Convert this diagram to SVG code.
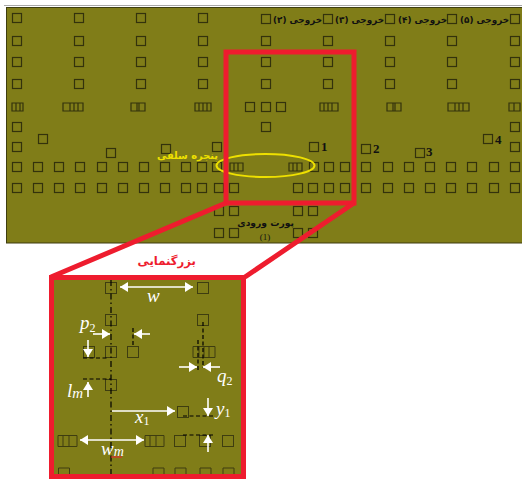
<svg xmlns="http://www.w3.org/2000/svg" xmlns:xlink="http://www.w3.org/1999/xlink" width="522" height="479" viewBox="0 0 522 479">
<style>
.s{fill:none;stroke:#33320c;stroke-width:1.2}
.b{fill:none;stroke:#3e3d10;stroke-width:1}
.r{fill:none;stroke:#ee1c2e;stroke-width:5}
.w{stroke:#fff;stroke-width:1.6;fill:none}
.d{stroke:#000;stroke-width:1.2;stroke-dasharray:4 2.5;fill:none}
.dd{stroke:#000;stroke-width:1.2;stroke-dasharray:6 3 1.5 3;fill:none}
.a{font-family:"DejaVu Sans",sans-serif;font-weight:bold;direction:rtl}
.n{font-family:"Liberation Serif",serif;font-weight:bold;font-size:13px;fill:#111}
.m{font-family:"Liberation Serif",serif;font-style:italic;fill:#fff;font-size:19px}
.u{font-size:12px;font-style:normal}
</style>
<defs>
<rect id="q" class="s" x="-4.500" y="-4.500" width="9" height="9"/>
<rect id="Q" class="b" x="-5.500" y="-5.500" width="11" height="11"/>
<marker id="ah" markerUnits="userSpaceOnUse" markerWidth="9" markerHeight="10" refX="8" refY="5" orient="auto-start-reverse"><path d="M0 0L8 5L0 10z" fill="#fff"/></marker>
</defs>
<rect x="0" y="0" width="522" height="479" fill="#fff"/>
<line x1="4" y1="5.500" x2="522" y2="5.500" stroke="#a8a8a8" stroke-width="1"/>
<rect x="6.500" y="7.500" width="516" height="235.500" fill="#807d18" stroke="#3e3d10" stroke-width="1"/>

<g id="slots">
<use xlink:href="#q" x="17" y="18"/><use xlink:href="#q" x="79" y="18"/><use xlink:href="#q" x="141" y="18"/><use xlink:href="#q" x="203" y="18"/><use xlink:href="#q" x="266" y="19"/><use xlink:href="#q" x="328" y="19"/><use xlink:href="#q" x="390" y="19"/><use xlink:href="#q" x="452" y="19"/><use xlink:href="#q" x="515" y="19"/>
<use xlink:href="#q" x="17" y="41"/><use xlink:href="#q" x="79" y="41"/><use xlink:href="#q" x="141" y="41"/><use xlink:href="#q" x="203" y="41"/><use xlink:href="#q" x="266" y="41"/><use xlink:href="#q" x="328" y="41"/><use xlink:href="#q" x="390" y="41"/><use xlink:href="#q" x="452" y="41"/><use xlink:href="#q" x="515" y="41"/>
<use xlink:href="#q" x="17" y="62"/><use xlink:href="#q" x="79" y="62"/><use xlink:href="#q" x="141" y="62"/><use xlink:href="#q" x="203" y="62"/><use xlink:href="#q" x="266" y="62"/><use xlink:href="#q" x="328" y="62"/><use xlink:href="#q" x="390" y="62"/><use xlink:href="#q" x="452" y="62"/><use xlink:href="#q" x="515" y="62"/>
<use xlink:href="#q" x="17" y="84"/><use xlink:href="#q" x="79" y="84"/><use xlink:href="#q" x="141" y="84"/><use xlink:href="#q" x="203" y="84"/><use xlink:href="#q" x="266" y="84"/><use xlink:href="#q" x="328" y="84"/><use xlink:href="#q" x="390" y="84"/><use xlink:href="#q" x="452" y="84"/><use xlink:href="#q" x="515" y="84"/>
<path class="s" d="M12 103h11v8h-11zM16 103v8M20 103v8M63 103h20v8h-20zM70 103v8M74 103v8M78 103v8M131 103h14v8h-14zM137 103v8M139 103v8M195 103h16v8h-16zM199 103v8M203 103v8M207 103v8M320 103h18v8h-18zM324 103v8M328 103v8M332 103v8M387 103h14v8h-14zM393 103v8M395 103v8M448 103h21v8h-21zM455 103v8M459 103v8M463 103v8M509 103h11v8h-11zM514 103v8"/>
<use xlink:href="#q" x="250" y="107"/><use xlink:href="#q" x="266" y="107"/><use xlink:href="#q" x="281" y="107"/>
<use xlink:href="#q" x="17" y="127"/><use xlink:href="#q" x="266" y="127"/><use xlink:href="#q" x="515" y="127"/>
<use xlink:href="#q" x="17" y="147"/><use xlink:href="#q" x="43" y="139"/><use xlink:href="#q" x="111" y="153"/><use xlink:href="#q" x="166" y="149"/><use xlink:href="#q" x="217" y="147"/><use xlink:href="#q" x="314" y="147"/><use xlink:href="#q" x="366" y="149"/><use xlink:href="#q" x="420" y="153"/><use xlink:href="#q" x="488" y="139"/><use xlink:href="#q" x="515" y="147"/>
<use xlink:href="#q" x="17" y="167"/><use xlink:href="#q" x="38" y="167"/><use xlink:href="#q" x="59" y="167"/><use xlink:href="#q" x="80" y="167"/><use xlink:href="#q" x="102" y="167"/><use xlink:href="#q" x="123" y="167"/><use xlink:href="#q" x="144" y="167"/><use xlink:href="#q" x="165" y="167"/><use xlink:href="#q" x="186" y="167"/><use xlink:href="#q" x="202" y="167"/><use xlink:href="#q" x="217" y="167"/><use xlink:href="#q" x="314" y="167"/><use xlink:href="#q" x="329" y="167"/><use xlink:href="#q" x="345" y="167"/><use xlink:href="#q" x="366" y="167"/><use xlink:href="#q" x="388" y="167"/><use xlink:href="#q" x="409" y="167"/><use xlink:href="#q" x="430" y="167"/><use xlink:href="#q" x="451" y="167"/><use xlink:href="#q" x="472" y="167"/><use xlink:href="#q" x="494" y="167"/><use xlink:href="#q" x="515" y="167"/>
<path class="s" d="M230 163h13v8h-13zM234 163v8M238 163v8M289 163h13v8h-13zM293 163v8M297 163v8"/>
<use xlink:href="#q" x="17" y="188"/><use xlink:href="#q" x="38" y="188"/><use xlink:href="#q" x="59" y="188"/><use xlink:href="#q" x="80" y="188"/><use xlink:href="#q" x="102" y="188"/><use xlink:href="#q" x="123" y="188"/><use xlink:href="#q" x="144" y="188"/><use xlink:href="#q" x="165" y="188"/><use xlink:href="#q" x="186" y="188"/><use xlink:href="#q" x="202" y="188"/><use xlink:href="#q" x="219" y="188"/><use xlink:href="#q" x="234" y="188"/><use xlink:href="#q" x="298" y="188"/><use xlink:href="#q" x="313" y="188"/><use xlink:href="#q" x="329" y="188"/><use xlink:href="#q" x="345" y="188"/><use xlink:href="#q" x="366" y="188"/><use xlink:href="#q" x="388" y="188"/><use xlink:href="#q" x="409" y="188"/><use xlink:href="#q" x="430" y="188"/><use xlink:href="#q" x="451" y="188"/><use xlink:href="#q" x="472" y="188"/><use xlink:href="#q" x="494" y="188"/><use xlink:href="#q" x="515" y="188"/>
<use xlink:href="#q" x="219" y="211"/><use xlink:href="#q" x="234" y="211"/><use xlink:href="#q" x="298" y="211"/><use xlink:href="#q" x="313" y="211"/>
<use xlink:href="#q" x="219" y="233"/><use xlink:href="#q" x="234" y="233"/><use xlink:href="#q" x="298" y="233"/><use xlink:href="#q" x="313" y="233"/>
</g>

<g id="labels">
<text class="a" x="322" y="23" font-size="8.800" fill="#111" text-anchor="start">خروجی (۲)</text>
<text class="a" x="384" y="23" font-size="8.800" fill="#111" text-anchor="start">خروجی (۳)</text>
<text class="a" x="447" y="23" font-size="8.800" fill="#111" text-anchor="start">خروجی (۴)</text>
<text class="a" x="509" y="23" font-size="8.800" fill="#111" text-anchor="start">خروجی (۵)</text>
<text class="n" x="321" y="151">1</text>
<text class="n" x="373" y="153">2</text>
<text class="n" x="426" y="156">3</text>
<text class="n" x="495" y="144">4</text>
<text class="a" x="218" y="159" font-size="9.900" fill="#eee000" text-anchor="start">پنجره سلفی</text>
<text class="a" x="294" y="226" font-size="9.200" fill="#111" text-anchor="start">پورت ورودی</text>
<text x="265" y="240" font-family="Liberation Serif,serif" font-size="9" fill="#111" text-anchor="middle">(1)</text>
<text class="a" x="196" y="265" font-size="11.700" fill="#ee1c2e" text-anchor="start">بزرگنمایی</text>
</g>

<g id="zoom-frame">
<ellipse cx="265.500" cy="165.500" rx="49" ry="11.500" fill="none" stroke="#eee000" stroke-width="2"/>
<rect class="r" x="226" y="52" width="128" height="151"/>
<path class="r" d="M226 203L51 277M354 203L245 277"/>
<rect x="51.500" y="277.500" width="192" height="199" fill="#807d18" stroke="#ee1c2e" stroke-width="5"/>
</g>

<g id="detail">
<use xlink:href="#Q" x="111" y="288"/><use xlink:href="#Q" x="203" y="288"/>
<use xlink:href="#Q" x="111" y="320"/><use xlink:href="#Q" x="203" y="320"/>
<use xlink:href="#Q" x="89" y="352"/><use xlink:href="#Q" x="111" y="352"/><use xlink:href="#Q" x="133" y="352"/>
<path class="b" d="M193 346.500h22v11h-22zM199 346.500v11M204 346.500v11M209 346.500v11"/>
<use xlink:href="#Q" x="111" y="385"/><use xlink:href="#Q" x="183" y="412"/>
<path class="b" d="M58 435.500h19v11h-19zM63 435.500v11M69 435.500v11M145 435.500h19v11h-19zM150 435.500v11M156 435.500v11"/>
<use xlink:href="#Q" x="180" y="441"/><use xlink:href="#Q" x="205" y="441"/><use xlink:href="#Q" x="228" y="441"/>
<path class="b" d="M58.500 474v-6h11v6M153 474v-6h11v6M175 474v-6h11v6M200 474v-6h11v6M223 474v-6h11v6"/>
<line class="dd" x1="111" y1="280" x2="111" y2="474"/>
<path class="d" d="M133 328V346M203 322V368M198 340V370M83 358H108M83 379H111M183 416H213M183 435H213"/>
<path class="w" marker-start="url(#ah)" marker-end="url(#ah)" d="M120 287H193"/>
<path class="w" marker-end="url(#ah)" d="M93 334H110"/>
<path class="w" marker-end="url(#ah)" d="M150 334H134"/>
<path class="w" marker-end="url(#ah)" d="M88 340V357"/>
<path class="w" marker-end="url(#ah)" d="M179 367H197"/>
<path class="w" marker-end="url(#ah)" d="M220 367H203"/>
<path class="w" marker-end="url(#ah)" d="M88 397V382"/>
<path class="w" marker-end="url(#ah)" d="M112 411H175"/>
<path class="w" marker-end="url(#ah)" d="M208 398V416"/>
<path class="w" marker-end="url(#ah)" d="M208 452V435"/>
<path class="w" marker-start="url(#ah)" marker-end="url(#ah)" d="M80 440H144"/>
<text class="m" x="147" y="302">w</text>
<text class="m" x="80" y="329" font-size="22">p<tspan class="u" dy="3">2</tspan></text>
<text class="m" x="217" y="382" font-size="22">q<tspan class="u" dy="3">2</tspan></text>
<text class="m" x="67" y="397">l<tspan font-size="15" dy="1">m</tspan></text>
<text class="m" x="135" y="423">x<tspan class="u" dy="2">1</tspan></text>
<text class="m" x="216" y="415">y<tspan class="u" dy="2">1</tspan></text>
<text class="m" x="101" y="455">w<tspan font-size="14" dy="1">m</tspan></text>
<line x1="111" y1="457" x2="122" y2="457" stroke="#ee1c2e" stroke-width="1"/>
</g>
</svg>
